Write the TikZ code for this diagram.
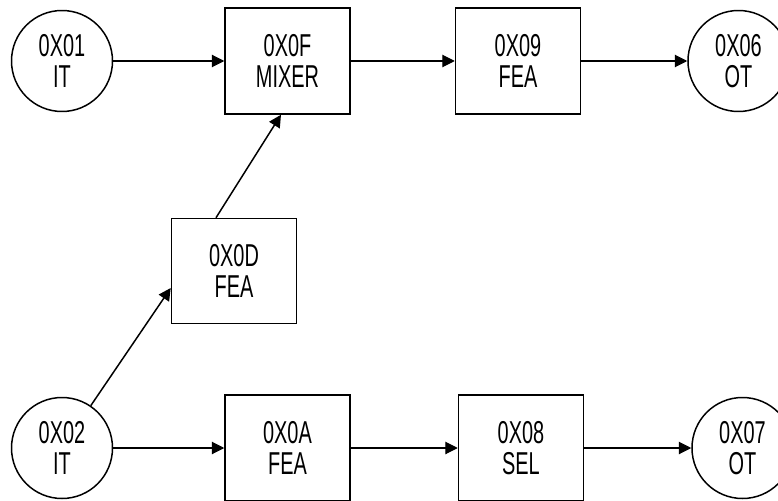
\documentclass[tikz,border=0pt]{standalone}
\usepackage{fontspec}
\setmainfont[FakeStretch=0.63]{Liberation Sans}
\usetikzlibrary{positioning,arrows.meta}

\begin{document}
\begin{tikzpicture}[font=\fontsize{18}{17.5}\selectfont,
		>={Triangle[length=7pt,width=7pt]},
		block/.style={draw,
			line width=0.85pt,
			minimum width=2.5cm,
			minimum height=2.12cm,
			align=center,
			inner sep=0},
		port/.style={draw,
			circle,
			line width=0.85pt,
			minimum size=2.02cm,
			align=center,
			inner sep=0},
		wire/.style={->,line width=0.6pt}]

		\useasboundingbox (0,0) rectangle (15.56,-10.02);

		% upper path
		\node[port] (it1) at (1.24,-1.22) {0X01\\IT};

		\node[block,
			right=2.22cm of it1] (mixer) {0X0F\\MIXER};

		\node[block,
			right=2.08cm of mixer] (fea09) {0X09\\FEA};

		\node[port,
			right=2.12cm of fea09] (ot06) {0X06\\OT};

		\node[block,
			below=2.06cm of mixer,
			xshift=-1.07cm,
			minimum height=2.1cm] (fea0d) {0X0D\\FEA};

		% lower path
		\node[port] (it2) at (1.24,-8.96) {0X02\\IT};

		\node[block,
			right=2.22cm of it2] (fea0a) {0X0A\\FEA};

		\node[block,
			right=2.14cm of fea0a] (sel) {0X08\\SEL};

		\node[port,
			right=2.14cm of sel] (ot07) {0X07\\OT};

		\draw[wire] (it1) -- (mixer);
		\draw[wire] (mixer) -- (fea09);
		\draw[wire] (fea09) -- (ot06);

		\draw[wire] (it2) -- (fea0a);
		\draw[wire] (fea0a) -- (sel);
		\draw[wire] (sel) -- (ot07);

		\draw[wire,line width=0.85pt] (it2) -- ([yshift=-0.34cm]fea0d.west);
		\draw[wire,line width=0.85pt] ([xshift=-0.36cm]fea0d.north) -- ([xshift=-0.13cm]mixer.south);

	\end{tikzpicture}
\end{document}
